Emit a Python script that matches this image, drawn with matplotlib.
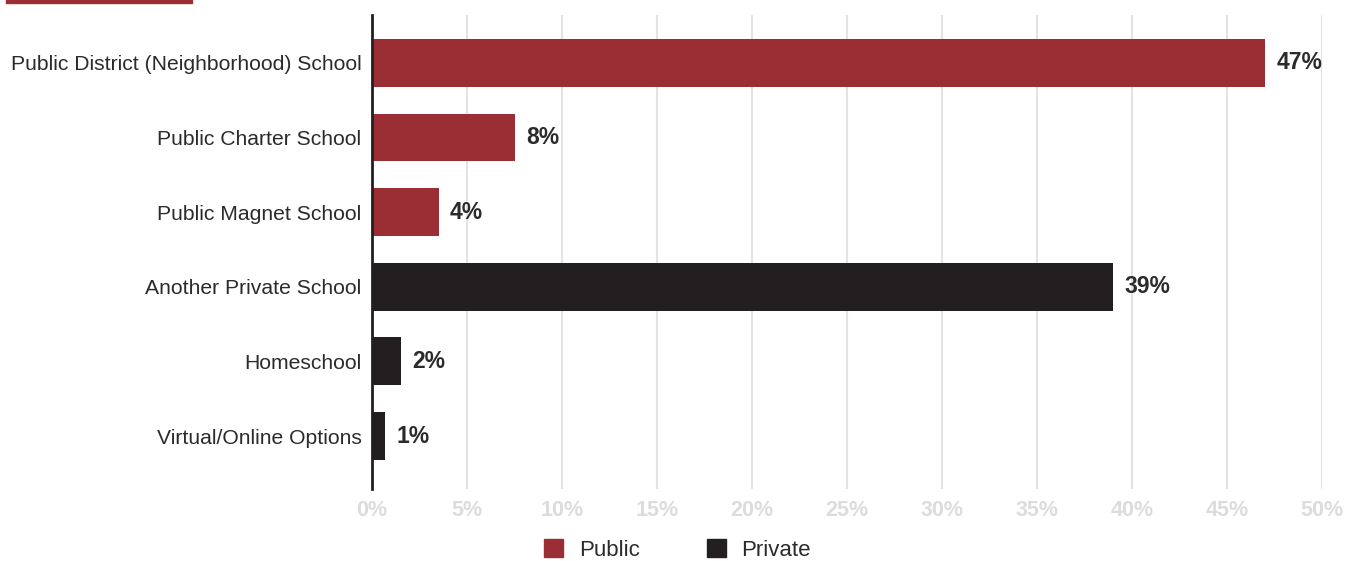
import matplotlib.pyplot as plt
from matplotlib.patches import Patch, Rectangle

categories = ['Public District (Neighborhood) School', 'Public Charter School',
              'Public Magnet School', 'Another Private School', 'Homeschool',
              'Virtual/Online Options']
shares = [47, 7.5, 3.5, 39, 1.5, 0.7]
sectors = ['Public', 'Public', 'Public', 'Private', 'Private', 'Private']
ticks = [0, 5, 10, 15, 20, 25, 30, 35, 40, 45, 50]

RED = '#9b2d35'
DARK = '#231f20'
colors = {'Public': RED, 'Private': DARK}

plt.rcParams['font.family'] = ['Liberation Sans', 'DejaVu Sans']

dpi = 100
fig = plt.figure(figsize=(1355 / dpi, 561 / dpi), dpi=dpi)
ax = fig.add_axes([372 / 1355, 1 - 489 / 561, 950 / 1355, 474 / 561])

ys = range(len(categories))
ax.barh(ys, shares, height=0.64, color=[colors[s] for s in sectors], zorder=2)

# value labels, rounded to whole percent
for y, v in zip(ys, shares):
    ax.text(v + 0.6, y, f'{int(v + 0.5)}%', va='center', ha='left',
            fontsize=16.5, fontweight='bold', color='#2b2b2b')

ax.set_xlim(0, 50)
ax.set_ylim(5.71, -0.64)
ax.set_yticks(list(ys))
ax.set_yticklabels(categories, fontsize=15.2, color='#2b2b2b')
ax.set_xticks(ticks)
ax.set_xticklabels([f'{t}%' for t in ticks], fontsize=15.5, fontweight='bold',
                   color='#dcdcdc')
ax.tick_params(axis='both', length=0)
ax.tick_params(axis='x', pad=8)
ax.tick_params(axis='y', pad=7.5)

ax.grid(axis='x', color='#e3e3e3', linewidth=1.5, zorder=0)
for side in ['top', 'right', 'bottom']:
    ax.spines[side].set_visible(False)
ax.spines['left'].set_color(DARK)
ax.spines['left'].set_linewidth(2)
ax.spines['left'].set_zorder(3)

handles = [Patch(color=RED, label='Public'), Patch(color=DARK, label='Private')]
fig.legend(handles=handles, loc='center', bbox_to_anchor=(0.5, 1 - 550 / 561),
           ncol=2, frameon=False, fontsize=16, handlelength=0.86, handleheight=0.86,
           columnspacing=3.0, handletextpad=0.7, labelcolor='#2b2b2b')

# accent bar in the top-left corner
fig.add_artist(Rectangle((6 / 1355, 1 - 3 / 561), 186 / 1355, 3 / 561,
                         transform=fig.transFigure, color=RED))

fig.savefig('out.png', dpi=dpi)
